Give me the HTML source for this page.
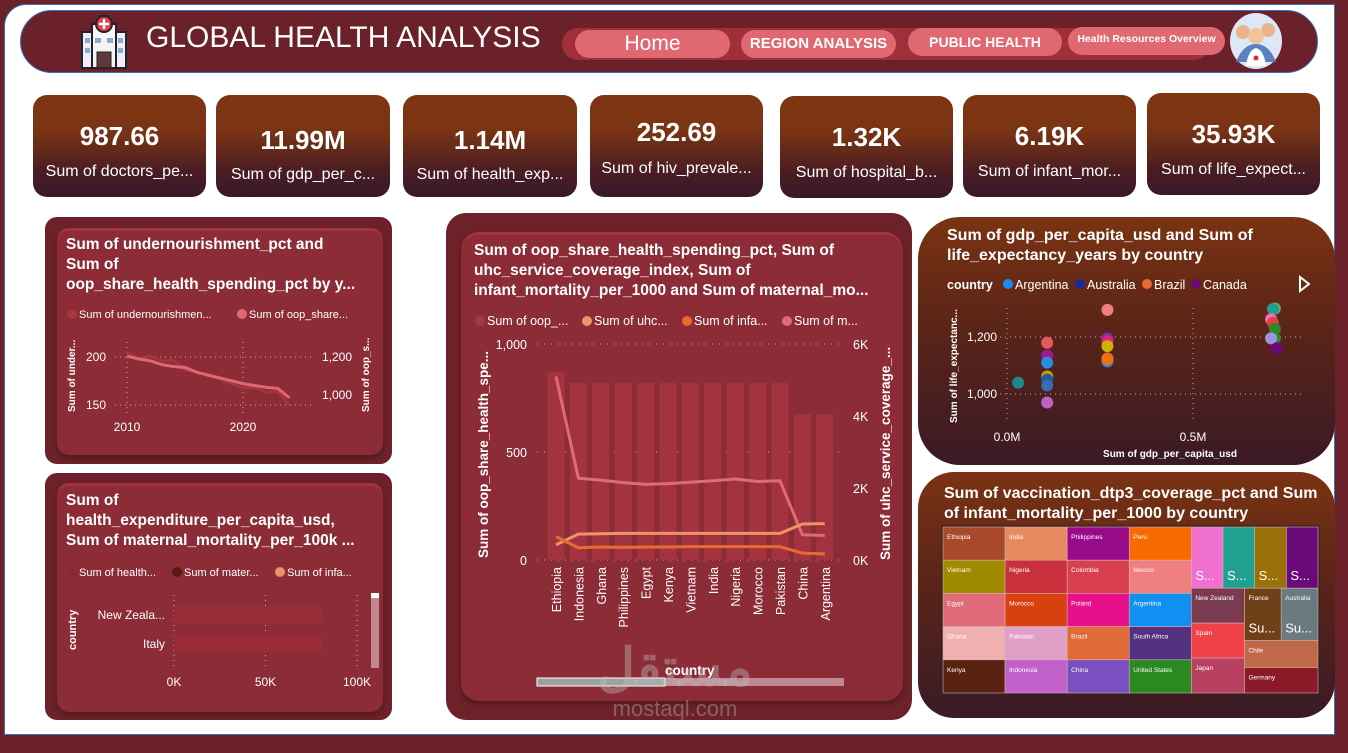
<!DOCTYPE html>
<html><head><meta charset="utf-8"><style>
*{box-sizing:border-box;margin:0;padding:0}
body{width:1348px;height:753px;background:#6b2129;position:relative;overflow:hidden;font-family:"Liberation Sans",sans-serif;color:#fff}
.abs{position:absolute}
.page{left:4px;top:4px;width:1331px;height:731px;background:#fff;border-radius:22px 0 0 0;border:1px solid #3b6fc0}
.kpi{position:absolute;top:95px;height:102px;border-radius:14px;background:linear-gradient(#7f3512 0%,#7a3414 35%,#4a1d22 75%,#38192a 100%);text-align:center}
.kpi .v{position:absolute;top:26px;width:100%;font-size:26px;font-weight:bold}
.kpi .l{position:absolute;top:68px;width:100%;font-size:16px}
.outer{position:absolute;background:#6d2229;border-radius:12px}
.inner{position:absolute;background:#8c2c36;border-radius:12px;border-top:3px solid #a3343f;box-shadow:0 3px 6px rgba(0,0,0,.3)}
.title{position:absolute;font-weight:bold;font-size:15.5px;line-height:20px;white-space:nowrap}
.btn{position:absolute;background:#e06870;border-radius:16px;text-align:center;color:#fff}
</style></head><body>
<div class="abs page"></div>

<div class="abs" style="left:20px;top:10px;width:1298px;height:63px;background:#6a2129;border-radius:32px;border:1px solid #3b6fc0"></div>
<svg class="abs" style="left:76px;top:14px" width="56" height="56">
<rect x="6" y="18" width="44" height="36" fill="#eef" stroke="#222" stroke-width="2"/>
<rect x="16" y="10" width="24" height="44" fill="#f4f4f4" stroke="#222" stroke-width="2"/>
<circle cx="28" cy="10" r="8" fill="#e04050" stroke="#222" stroke-width="2"/>
<path d="M28 5v10M23 10h10" stroke="#fff" stroke-width="2.5"/>
<rect x="21" y="38" width="14" height="16" fill="#5a3a3a" stroke="#222"/>
<rect x="19" y="24" width="6" height="5" fill="#8ac"/><rect x="31" y="24" width="6" height="5" fill="#8ac"/>
<rect x="9" y="24" width="5" height="5" fill="#8ac"/><rect x="42" y="24" width="5" height="5" fill="#8ac"/>
<rect x="9" y="34" width="5" height="5" fill="#8ac"/><rect x="42" y="34" width="5" height="5" fill="#8ac"/>
</svg>
<div class="abs" style="left:146px;top:21px;font-size:30px;color:#fff;white-space:nowrap">GLOBAL HEALTH ANALYSIS</div>
<div class="abs" style="left:562px;top:28px;width:648px;height:32px;background:#9e2f3b;border-radius:16px"></div>
<div class="btn" style="left:575px;top:30px;width:155px;height:28px;font-size:21px;line-height:28px">Home</div>
<div class="btn" style="left:741px;top:30px;width:155px;height:28px;font-size:15px;line-height:28px;font-weight:bold">REGION ANALYSIS</div>
<div class="btn" style="left:908px;top:28px;width:154px;height:28px;font-size:14px;line-height:28px;font-weight:bold">PUBLIC HEALTH</div>
<div class="btn" style="left:1068px;top:27px;width:157px;height:28px;font-size:10.5px;line-height:24px;font-weight:bold">Health Resources Overview</div>
<svg class="abs" style="left:1228px;top:12px" width="56" height="58">
<ellipse cx="28" cy="29" rx="26" ry="28" fill="#dde8f4"/>
<circle cx="15" cy="20" r="7" fill="#e7b48c"/><circle cx="40" cy="18" r="7" fill="#e7b48c"/><circle cx="28" cy="24" r="8" fill="#f2c29a"/>
<path d="M8 50q7-18 20-18t20 18z" fill="#5a80c0"/><path d="M18 54q2-16 10-18 8 2 10 18z" fill="#fff"/>
<circle cx="28" cy="46" r="2.5" fill="#d03040"/>
</svg>

<div class="kpi" style="left:33px;width:173px"><div class="v">987.66</div><div class="l">Sum of doctors_pe...</div></div>
<div class="kpi" style="left:216px;width:174px"><div class="v" style="top:30px">11.99M</div><div class="l" style="top:71px">Sum of gdp_per_c...</div></div>
<div class="kpi" style="left:403px;width:174px"><div class="v" style="top:30px">1.14M</div><div class="l" style="top:71px">Sum of health_exp...</div></div>
<div class="kpi" style="left:590px;width:173px"><div class="v" style="top:22px">252.69</div><div class="l" style="top:65px">Sum of hiv_prevale...</div></div>
<div class="kpi" style="left:780px;width:173px;top:96px"><div class="v">1.32K</div><div class="l">Sum of hospital_b...</div></div>
<div class="kpi" style="left:963px;width:173px"><div class="v">6.19K</div><div class="l">Sum of infant_mor...</div></div>
<div class="kpi" style="left:1147px;width:173px;top:93px"><div class="v">35.93K</div><div class="l">Sum of life_expect...</div></div>

<!-- left top -->
<div class="outer" style="left:45px;top:217px;width:347px;height:247px"></div>
<div class="inner" style="left:57px;top:228px;width:326px;height:227px"></div>
<div class="title" style="left:66px;top:235px">Sum of undernourishment_pct and<br>Sum of<br>oop_share_health_spending_pct by y...</div>
<svg class="abs" style="left:0;top:0" width="1348" height="753" id="svgA"></svg>

<!-- left bottom -->
<div class="outer" style="left:45px;top:473px;width:347px;height:247px"></div>
<div class="inner" style="left:57px;top:483px;width:326px;height:229px"></div>
<div class="title" style="left:66px;top:491px">Sum of<br>health_expenditure_per_capita_usd,<br>Sum of maternal_mortality_per_100k ...</div>

<!-- center -->
<div class="outer" style="left:446px;top:213px;width:466px;height:507px;border-radius:20px"></div>
<div class="inner" style="left:461px;top:232px;width:442px;height:469px;border-radius:18px"></div>
<div class="title" style="left:474px;top:241px">Sum of oop_share_health_spending_pct, Sum of<br>uhc_service_coverage_index, Sum of<br>infant_mortality_per_1000 and Sum of maternal_mo...</div>

<!-- scatter -->
<div class="abs" style="left:918px;top:217px;width:417px;height:248px;border-radius:42px;background:linear-gradient(#7a3312,#5a2418 45%,#3a1a26)"></div>
<div class="title" style="left:947px;top:226px;font-size:16px">Sum of gdp_per_capita_usd and Sum of<br>life_expectancy_years by country</div>

<!-- treemap -->
<div class="abs" style="left:918px;top:472px;width:417px;height:246px;border-radius:36px;background:linear-gradient(#7a3312,#5a2418 45%,#3a1a26)"></div>
<div class="title" style="left:944px;top:484px;font-size:16px">Sum of vaccination_dtp3_coverage_pct and Sum<br>of infant_mortality_per_1000 by country</div>
<svg class="abs" style="left:0;top:0" width="1348" height="753" id="svgB"></svg>

<div class="abs" style="left:590px;top:640px;width:170px;text-align:center;color:rgba(190,190,190,.4);font-family:'Liberation Sans','Noto Sans CJK SC',sans-serif">
<div style="font-size:52px;line-height:56px;font-weight:bold">مستقل</div><div style="font-size:22px;line-height:26px">mostaql.com</div></div>

<script>
// ---------- line chart data ----------
const years=[2010,2011,2012,2013,2014,2015,2016,2017,2018,2019,2020,2021,2022,2023,2024];
const underNourish=[205,199,201,196,197,186,185,180,177,172,168,168,163,164,150];
const oopShareYear=[1205,1190,1180,1160,1150,1145,1120,1105,1090,1075,1060,1050,1040,1035,985];
const lineXTicks=[2010,2020];
const lineLeftTicks=[150,200];
const lineRightTicks=[1000,1200];
// ---------- horizontal bar data ----------
const barCountries=['New Zeala...','Italy'];
const healthExp=[81000,81000];
const barTicks=[0,50000,100000];
const barTickLabels=['0K','50K','100K'];
// ---------- combo chart data ----------
const comboCountries=['Ethiopia','Indonesia','Ghana','Philippines','Egypt','Kenya','Vietnam','India','Nigeria','Morocco','Pakistan','China','Argentina'];
const oopShare=[870,820,820,820,820,820,820,820,820,820,820,675,675];
const uhcIndex=[420,720,730,740,740,740,740,740,740,740,740,1000,1010];
const infantMort=[650,340,360,350,360,360,370,370,370,370,370,190,170];
const maternalMort=[5100,2270,2220,2150,2100,2120,2160,2200,2250,2180,2200,700,680];
const comboLeftTicks=[0,500,1000];
const comboLeftLabels=['0','500','1,000'];
const comboRightTicks=[0,2000,4000,6000];
const comboRightLabels=['0K','2K','4K','6K'];
// ---------- scatter data ----------
const scatterGdp=[0.03,0.108,0.108,0.108,0.108,0.108,0.108,0.108,0.27,0.27,0.27,0.27,0.27,0.27,0.27,0.72,0.715,0.71,0.715,0.72,0.72,0.71,0.725];
const scatterLife=[1040,1180,1135,1110,1062,1050,1030,970,1295,1195,1185,1168,1125,1115,1122,1300,1298,1262,1250,1228,1195,1195,1160];
const scatterColors=['#1a8a8a','#e05a60','#9b1a8f','#2a8ce0','#c8a000','#1c5aa8','#3a6ab0','#c060c0','#f08080','#6a3a9a','#e0208a','#d0b000','#e06a30','#2a8ce0','#f07010','#70b050','#20a090','#f070c0','#e04040','#2a8a2a','#2a8a2a','#a090e0','#6a0a7a'];
const scatterXTicks=[0,0.5];
const scatterXLabels=['0.0M','0.5M'];
const scatterYTicks=[1000,1200];
const scatterYLabels=['1,000','1,200'];
// ---------- treemap data ----------
const tmCountries=['Ethiopia','Vietnam','Egypt','Ghana','Kenya','India','Nigeria','Morocco','Pakistan','Indonesia','Philippines','Colombia','Poland','Brazil','China','Peru','Mexico','Argentina','South Africa','United States','S...','S...','S...','S...','New Zealand','Spain','Japan','France','Australia','Chile','Germany'];
const tmValues=[100,100,100,100,100,100,100,100,100,100,100,100,100,100,100,100,100,100,100,100,94,94,94,94,90,90,90,93,93,97,91];
const tmColors=['#a84a2a','#a08a00','#e06a78','#f0b0b0','#5a2210','#e88a60','#c8303c','#d84010','#e0a0c8','#c060c8','#980a8a','#d84050','#e8108a','#e06a38','#7a50c0','#f86a00','#f08080','#1090f0','#543080','#2a8a20','#f070d0','#20a090','#9a7008','#6a0a7a','#7a3a50','#f04048','#b84060','#704018','#6a7a80','#c06848','#8a1a28'];

const NS='http://www.w3.org/2000/svg';
function mk(svg,tag,attrs,txt){const e=document.createElementNS(NS,tag);for(const k in attrs)e.setAttribute(k,attrs[k]);if(txt!==undefined)e.textContent=txt;svg.appendChild(e);return e;}
const A=document.getElementById('svgA');
const B=document.getElementById('svgB');
const F='Liberation Sans, sans-serif';

// ===== line chart =====
(function(){
 const xs=y=>127+(y-2010)*(243-127)/10;
 const yl=v=>405-(v-150)*(48/50);
 const yr=v=>395-(v-1000)*(38/200);
 let e;
 e=mk(A,'circle',{cx:72,cy:314,r:5,fill:'#a63640'});
 mk(A,'text',{x:79,y:318,'font-size':11,fill:'#fff','font-family':F},'Sum of undernourishmen...');
 e=mk(A,'circle',{cx:242,cy:314,r:5,fill:'#e06870'});
 mk(A,'text',{x:249,y:318,'font-size':11,fill:'#fff','font-family':F},'Sum of oop_share...');
 lineLeftTicks.forEach(t=>{mk(A,'line',{x1:115,x2:312,y1:yl(t),y2:yl(t),stroke:'#d9a0a6','stroke-dasharray':'1 4'});
  e=mk(A,'text',{x:106,y:yl(t)+4,'font-size':12,fill:'#fff','text-anchor':'end','font-family':F},t);});
 lineRightTicks.forEach(t=>{e=mk(A,'text',{x:352,y:yr(t)+4,'font-size':12,fill:'#fff','text-anchor':'end','font-family':F},t.toLocaleString('en-US'));});
 lineXTicks.forEach(t=>{mk(A,'line',{x1:xs(t),x2:xs(t),y1:342,y2:415,stroke:'#d9a0a6','stroke-dasharray':'1 4'});
  e=mk(A,'text',{x:xs(t),y:431,'font-size':12,fill:'#fff','text-anchor':'middle','font-family':F},t);});
 mk(A,'text',{transform:'translate(75,412) rotate(-90)','font-size':10,'font-weight':'bold',fill:'#fff','font-family':F},'Sum of under...');
 mk(A,'text',{transform:'translate(369,412) rotate(-90)','font-size':10,'font-weight':'bold',fill:'#fff','font-family':F},'Sum of oop_s...');
 e=mk(A,'polyline',{points:years.map((y,i)=>xs(y)+','+yl(underNourish[i])).join(' '),fill:'none',stroke:'#a63640','stroke-width':2.5});
 
 e=mk(A,'polyline',{points:years.map((y,i)=>xs(y)+','+yr(oopShareYear[i])).join(' '),fill:'none',stroke:'#e06870','stroke-width':3});
 
})();

// ===== horizontal bar chart =====
(function(){
 const xs=v=>174+v*(357-174)/100000;
 let e;
 [['#8a2a34','Sum of health...',72],['#5a1a10','Sum of mater...',177],['#e8956a','Sum of infa...',280]].forEach(l=>{
  e=mk(B,'circle',{cx:l[2],cy:572,r:5,fill:l[0]});
  mk(B,'text',{x:l[2]+7,y:576,'font-size':11,fill:'#fff','font-family':F},l[1]);});
 barTicks.forEach((t,i)=>{mk(B,'line',{x1:xs(t),x2:xs(t),y1:595,y2:668,stroke:'#d9a0a6','stroke-dasharray':'1 4'});
  e=mk(B,'text',{x:xs(t),y:686,'font-size':12,fill:'#fff','text-anchor':'middle','font-family':F},barTickLabels[i]);});
 barCountries.forEach((c,i)=>{const y=606+i*29;
  e=mk(B,'rect',{x:xs(0),y:y,width:xs(healthExp[i])-xs(0),height:17,fill:'#9a2c38'});
  mk(B,'text',{x:165,y:y+13,'font-size':12,fill:'#fff','text-anchor':'end','font-family':F},c);});
 mk(B,'text',{transform:'translate(76,650) rotate(-90)','font-size':11,'font-weight':'bold',fill:'#fff','font-family':F},'country');
 e=mk(B,'rect',{x:371,y:593,width:8,height:75,fill:'#c08890'});
 mk(B,'rect',{x:371,y:593,width:8,height:5,fill:'#fff'});
})();

// ===== combo chart =====
(function(){
 const step=22.4, x0=556;
 const xs=i=>x0+i*step;
 const yl=v=>560-v*216/1000;
 const yr=v=>560-v*216/6000;
 let e;
 [['#a63640','Sum of oop_...',480],['#e8956a','Sum of uhc...',587],['#e86a30','Sum of infa...',687],['#e06a78','Sum of m...',787]].forEach(l=>{
  e=mk(B,'circle',{cx:l[2],cy:321,r:5,fill:l[0]});
  mk(B,'text',{x:l[2]+7,y:325,'font-size':12.5,fill:'#fff','font-family':F},l[1]);});
 comboLeftTicks.forEach((t,i)=>{mk(B,'line',{x1:537,x2:843,y1:yl(t),y2:yl(t),stroke:'#d9a0a6','stroke-dasharray':'1 6'});
  e=mk(B,'text',{x:527,y:yl(t)+5,'font-size':12.5,fill:'#fff','text-anchor':'end','font-family':F},comboLeftLabels[i]);});
 comboRightTicks.forEach((t,i)=>{e=mk(B,'text',{x:853,y:yr(t)+5,'font-size':12.5,fill:'#fff','font-family':F},comboRightLabels[i]);});
 comboCountries.forEach((c,i)=>{
  e=mk(B,'rect',{x:xs(i)-8.5,y:yl(oopShare[i]),width:17,height:yl(0)-yl(oopShare[i]),fill:'#a3343f'});
  
  e=mk(B,'text',{transform:'translate('+(xs(i)+5)+',567) rotate(-90)','font-size':12.5,fill:'#fff','text-anchor':'end','font-family':F},c);
  });
 const line=(arr,col,name)=>{e=mk(B,'polyline',{points:arr.map((v,i)=>xs(i)+','+yr(v)).join(' '),fill:'none',stroke:col,'stroke-width':3,'stroke-linejoin':'round'});};
 line(maternalMort,'#e06a78','maternal-mortality-line');
 line(uhcIndex,'#e8956a','uhc-coverage-line');
 line(infantMort,'#e86a30','infant-mortality-line');
 mk(B,'text',{transform:'translate(488,558) rotate(-90)','font-size':13.5,'font-weight':'bold',fill:'#fff','font-family':F},'Sum of oop_share_health_spe...');
 mk(B,'text',{transform:'translate(890,560) rotate(-90)','font-size':13.5,'font-weight':'bold',fill:'#fff','font-family':F},'Sum of uhc_service_coverage_...');
 mk(B,'text',{x:665,y:675,'font-size':13.5,'font-weight':'bold',fill:'#fff','font-family':F},'country');
 e=mk(B,'rect',{x:537,y:678,width:307,height:8,fill:'#c08890'});
 mk(B,'rect',{x:537,y:678,width:128,height:8,fill:'#a0a0a0',stroke:'#fff','stroke-width':1});
})();

// ===== scatter =====
(function(){
 const xs=v=>1007+v*372;
 const ys=v=>394-(v-1000)*57/200;
 let e;
 mk(B,'text',{x:947,y:289,'font-size':12.5,'font-weight':'bold',fill:'#fff','font-family':F},'country');
 [['#1a8cf0','Argentina',1008],['#1a2a9a','Australia',1080],['#e86a30','Brazil',1147],['#6a0a7a','Canada',1196]].forEach(l=>{
  e=mk(B,'circle',{cx:l[2],cy:284,r:5,fill:l[0]});
  mk(B,'text',{x:l[2]+7,y:289,'font-size':12.5,fill:'#fff','font-family':F},l[1]);});
 e=mk(B,'path',{d:'M1300 277 L1309 284 L1300 291 Z',fill:'none',stroke:'#fff','stroke-width':2});
 scatterXTicks.forEach((t,i)=>{mk(B,'line',{x1:xs(t),x2:xs(t),y1:308,y2:423,stroke:'#d9a0a6','stroke-dasharray':'1 4'});
  e=mk(B,'text',{x:xs(t),y:441,'font-size':12,fill:'#fff','text-anchor':'middle','font-family':F},scatterXLabels[i]);});
 scatterYTicks.forEach((t,i)=>{mk(B,'line',{x1:1000,x2:1302,y1:ys(t),y2:ys(t),stroke:'#d9a0a6','stroke-dasharray':'1 4'});
  e=mk(B,'text',{x:997,y:ys(t)+4,'font-size':12,fill:'#fff','text-anchor':'end','font-family':F},scatterYLabels[i]);});
 mk(B,'text',{x:1170,y:457,'font-size':10,'font-weight':'bold',fill:'#fff','text-anchor':'middle','font-family':F},'Sum of gdp_per_capita_usd');
 mk(B,'text',{transform:'translate(957,423) rotate(-90)','font-size':10,'font-weight':'bold',fill:'#fff','font-family':F},'Sum of life_expectanc...');
 scatterGdp.forEach((g,i)=>{e=mk(B,'circle',{cx:xs(g),cy:ys(scatterLife[i]),r:6,fill:scatterColors[i]});});
})();

// ===== treemap =====
(function(){
 const tree={d:'h',c:[{d:'v',c:[0,1,2,3,4]},{d:'v',c:[5,6,7,8,9]},{d:'v',c:[10,11,12,13,14]},{d:'v',c:[15,16,17,18,19]},
   {d:'v',c:[{d:'h',c:[20,21,22,23]},{d:'h',c:[{d:'v',c:[24,25,26]},{d:'v',c:[{d:'h',c:[27,28]},29,30]}]}]}]};
 const sum=n=>typeof n==='number'?tmValues[n]:n.c.reduce((a,b)=>a+sum(b),0);
 let e;
 mk(B,'rect',{x:942,y:526,width:377,height:168,fill:'none',stroke:'#222'});
 function lay(n,x,y,w,h){
  if(typeof n==='number'){
   e=mk(B,'rect',{x:x,y:y,width:w,height:h,fill:tmColors[n],stroke:'#d9b0b0','stroke-width':0.6});
   
   const big=tmCountries[n].startsWith('S...');
   e=mk(B,'text',{x:x+4,y:big?y+h-8:y+12,'font-size':big?13:6.5,fill:'#fff','font-family':F},tmCountries[n]);
   
   if(tmCountries[n]==='France'||tmCountries[n]==='Australia'){mk(B,'text',{x:x+4,y:y+h-8,'font-size':13,fill:'#fff','font-family':F},'Su...');}
   return;}
  const tot=sum(n);let off=0;
  n.c.forEach(ch=>{const f=sum(ch)/tot;
   if(n.d==='h'){lay(ch,x+off,y,w*f,h);off+=w*f;}else{lay(ch,x,y+off,w,h*f);off+=h*f;}});
 }
 lay(tree,943,527,375,166);
})();
</script>
</body></html>
